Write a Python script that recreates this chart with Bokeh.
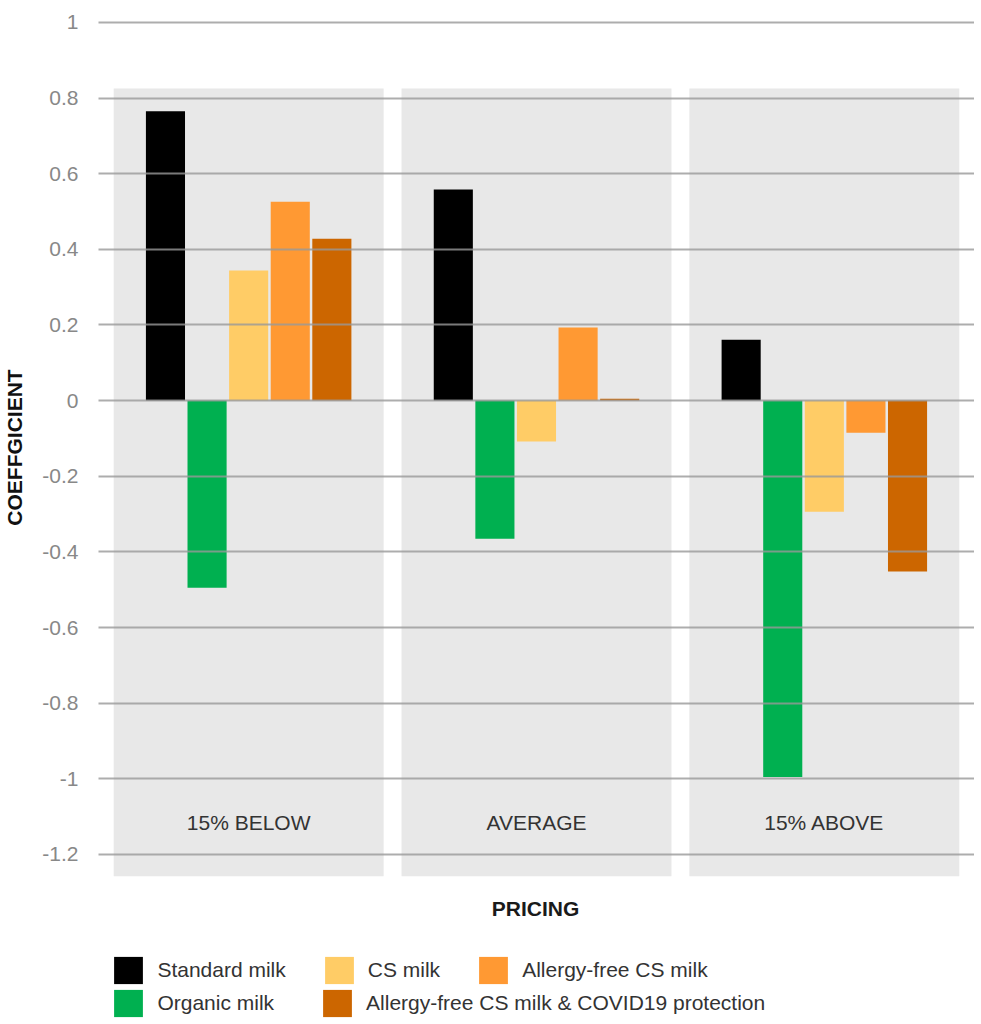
from bokeh.plotting import figure
from bokeh.models import (FactorRange, Range1d, FixedTicker, Legend, LegendItem,
                          Label, ColumnDataSource)
from bokeh.layouts import column
from bokeh.embed import file_html
from bokeh.resources import INLINE
from bokeh.core.properties import value

# ---- data ----
groups = ["15% BELOW", "AVERAGE", "15% ABOVE"]
series = ["Standard milk", "Organic milk", "CS milk", "Allergy-free CS milk",
          "Allergy-free CS milk & COVID19 protection"]
colors = ["#000000", "#00b050", "#ffcc66", "#ff9933", "#cc6600"]
standard_milk = [0.765, 0.558, 0.161]
organic_milk = [-0.495, -0.365, -0.995]
cs_milk = [0.344, -0.108, -0.294]
allergy_free_cs_milk = [0.526, 0.193, -0.085]
allergy_free_covid = [0.428, 0.005, -0.452]
values_by_series = [standard_milk, organic_milk, cs_milk,
                    allergy_free_cs_milk, allergy_free_covid]
y_ticks = [-1.2, -1.0, -0.8, -0.6, -0.4, -0.2, 0.0, 0.2, 0.4, 0.6, 0.8, 1.0]
y_tick_labels = ["-1.2", "-1", "-0.8", "-0.6", "-0.4", "-0.2", "0",
                 "0.2", "0.4", "0.6", "0.8", "1"]
x_title = "PRICING"
y_title = "COEFFGICIENT"
legend_row1 = [series[0], series[2], series[3]]
legend_row2 = [series[1], series[4]]

FONT = "Liberation Sans"
FRAME_W, FRAME_H = 876, 866
LEFT, TOP = 97, 14
FOOT_H = 140
FOOT_SHIFT = 98   # the column lines the footer frame up with the chart frame

factors = [(g, s) for g in groups for s in series]
x_range = FactorRange(factors=factors, group_padding=1.92, factor_padding=0,
                      range_padding=1.11, range_padding_units="absolute")

p = figure(x_range=x_range, y_range=Range1d(-1.269, 1.021),
           frame_width=FRAME_W, frame_height=FRAME_H,
           x_axis_location=None, y_axis_location="left",
           output_backend="svg", toolbar_location=None,
           min_border_left=LEFT, min_border_top=TOP, min_border_right=0,
           min_border_bottom=0, outline_line_color=None,
           background_fill_color="white", border_fill_color="white")

# grey category panels
p.vbar(x=groups, top=0.825, bottom=-1.258, width=6.49,
       fill_color="#e8e8e8", line_color=None)

# bars
sources = {}
for name, vals, col in zip(series, values_by_series, colors):
    src = ColumnDataSource(dict(x=[(g, name) for g in groups], top=vals))
    sources[name] = src
    p.vbar(x="x", top="top", bottom=0, width=0.94, source=src,
           fill_color=col, line_color=None)

# category labels inside panels
p.text(x=groups, y=[-1.115] * len(groups), text=groups,
       text_align="center", text_baseline="middle",
       text_font=value(FONT), text_font_size="21px", text_color="#333333")

# y axis
ax = p.yaxis[0]
ax.ticker = FixedTicker(ticks=y_ticks)
ax.major_label_overrides = dict(zip(y_ticks, y_tick_labels))
ax.axis_line_color = None
ax.major_tick_line_color = None
ax.minor_tick_line_color = None
ax.major_tick_out = 0
ax.major_tick_in = 0
ax.major_label_standoff = 20
ax.major_label_text_font = FONT
ax.major_label_text_font_size = "21px"
ax.major_label_text_color = "#888888"
ax.axis_label = y_title
ax.axis_label_standoff = 13
ax.axis_label_text_font = FONT
ax.axis_label_text_font_size = "21px"
ax.axis_label_text_font_style = "bold"
ax.axis_label_text_color = "#111111"

p.xgrid.grid_line_color = None
p.ygrid.ticker = FixedTicker(ticks=y_ticks)
p.ygrid.grid_line_color = "#999999"
p.ygrid.grid_line_alpha = 0.8
p.ygrid.grid_line_width = 2
p.ygrid.level = "overlay"

# ---- footer: x axis title + legend ----
foot = figure(width=LEFT + FRAME_W, height=FOOT_H,
              x_range=x_range, y_range=Range1d(1000, 1000 + FOOT_H),
              output_backend="svg", toolbar_location=None,
              x_axis_location=None, y_axis_location=None,
              min_border=0, outline_line_color=None,
              background_fill_color="white", border_fill_color="white")
foot.grid.visible = False

foot.add_layout(Label(x=LEFT + FRAME_W / 2 - FOOT_SHIFT, y=FOOT_H - 28,
                      x_units="screen", y_units="screen",
                      text=x_title, text_align="center", text_baseline="middle",
                      text_font=FONT, text_font_size="21px",
                      text_font_style="bold", text_color="#1a1a1a"))

# legend renderers: same bar data, outside this panel's visible y range
swatch = {}
for name, col in zip(series, colors):
    swatch[name] = foot.vbar(x="x", top="top", bottom=0, width=0.94,
                             source=sources[name], fill_color=col, line_color=None)

def make_legend(names, spacing, vy):
    return Legend(items=[LegendItem(label=n, renderers=[swatch[n]]) for n in names],
                  orientation="horizontal", location=(110.4 - FOOT_SHIFT, vy),
                  glyph_width=36, glyph_height=34, label_standoff=11,
                  spacing=spacing, padding=0, margin=0,
                  border_line_color=None, background_fill_alpha=0,
                  label_text_font=FONT, label_text_font_size="21px",
                  label_text_color="#333333")

foot.add_layout(make_legend(legend_row1, 35, 33))
foot.add_layout(make_legend(legend_row2, 45, 0))

open("out.html", "w").write(file_html(column(p, foot, spacing=0), INLINE))
